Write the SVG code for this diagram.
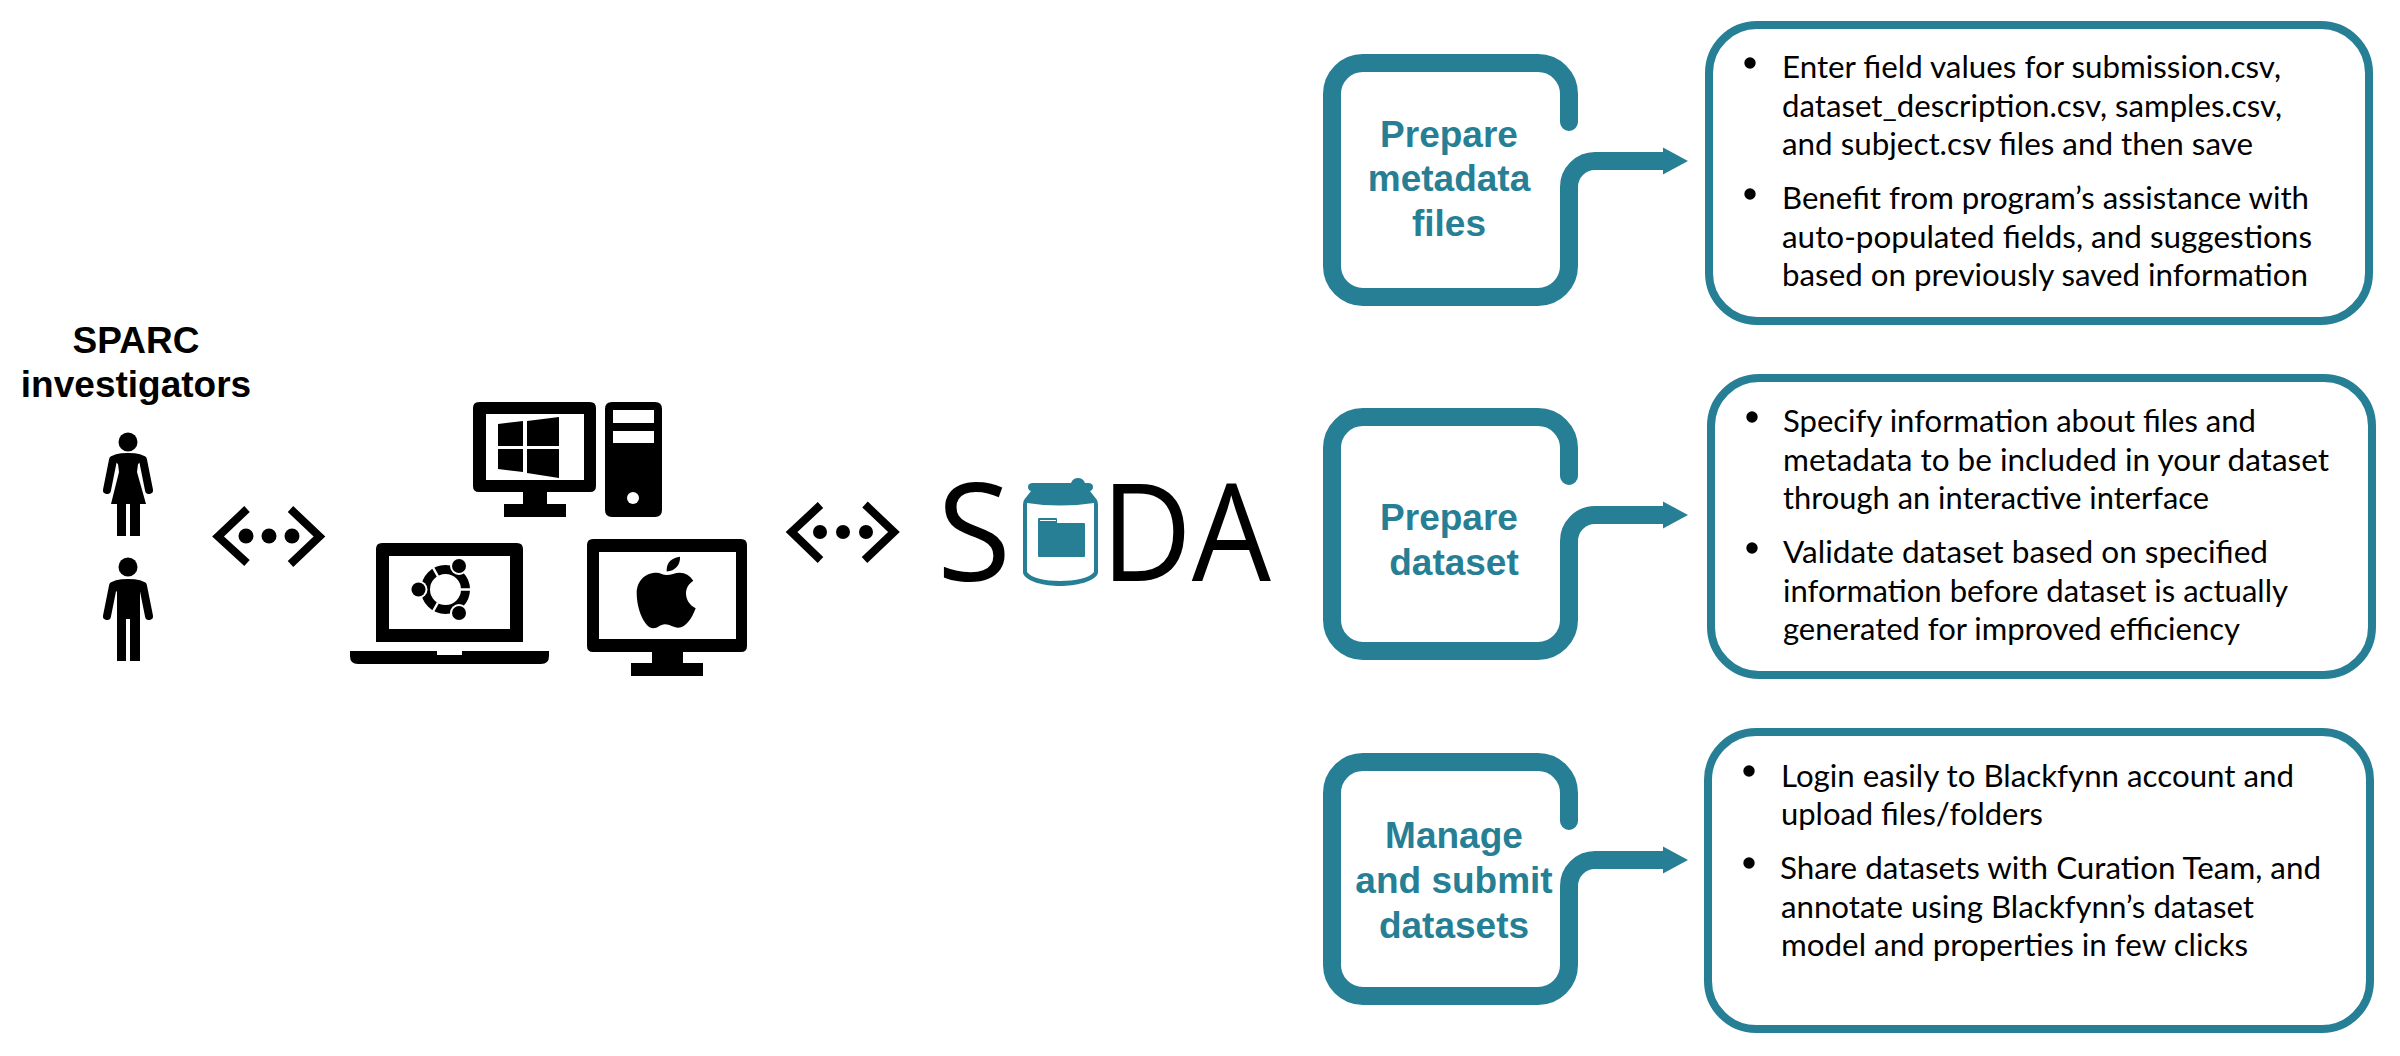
<svg xmlns="http://www.w3.org/2000/svg" width="2400" height="1056" viewBox="0 0 2400 1056">
<style>
.lab{font-family:"Liberation Sans",Arial,sans-serif;font-weight:700;font-size:37px;text-anchor:middle}
.teal{fill:#277f95}
.blk{fill:#000}
.body{font-family:Lato,"Noto Sans",sans-serif;font-size:30px;fill:#000}
.frame{fill:none;stroke:#277f95;stroke-width:18;stroke-linecap:round}
.conn{fill:none;stroke:#277f95;stroke-width:18}
.card{fill:#fff;stroke:#277f95;stroke-width:8}
.chev{fill:none;stroke:#000;stroke-width:8;stroke-miterlimit:10}
.limb{fill:none;stroke:#000;stroke-width:8;stroke-linecap:round}
.soda{font-family:"Open Sans",sans-serif;font-size:135px;fill:#000}
</style>
<defs>
<path id="frame" d="M1569 59V31A31 31 0 0 0 1538 0H1363A31 31 0 0 0 1332 31V203A31 31 0 0 0 1363 234H1538A31 31 0 0 0 1569 203V129"/>
<path id="conn" d="M1569 130V124A26 26 0 0 1 1595 98H1665"/>
<path id="head" d="M1663 84.500L1688 98L1663 111.500Z"/>
</defs>
<rect width="2400" height="1056" fill="#fff"/>

<g id="connectors">
<polyline class="chev" points="247,509 218,536.500 247,563"/>
<polyline class="chev" points="290.500,509 319.500,536.500 290.500,564"/>
<g class="blk"><circle cx="246" cy="536" r="7.500"/><circle cx="269" cy="536" r="7.500"/><circle cx="292" cy="536" r="7.500"/></g>
<polyline class="chev" points="820.500,505 791.500,532 820.500,560"/>
<polyline class="chev" points="865,504.500 894,532 864.500,560"/>
<g class="blk"><circle cx="820" cy="532" r="7"/><circle cx="843" cy="532" r="7"/><circle cx="866" cy="532" r="7"/></g>
<use href="#conn" class="conn" transform="translate(0 63)"/><use href="#head" class="teal" transform="translate(0 63)"/>
<use href="#conn" class="conn" transform="translate(0 417)"/><use href="#head" class="teal" transform="translate(0 417)"/>
<use href="#conn" class="conn" transform="translate(0 762)"/><use href="#head" class="teal" transform="translate(0 762)"/>
</g>

<g id="investigators">
<text class="lab" x="136" y="353">SPARC</text>
<text class="lab" x="136" y="397">investigators</text>
<g id="woman">
<ellipse class="blk" cx="128" cy="442" rx="9.500" ry="9.500"/>
<path class="limb" d="M113 460L107 490M143 460L149 490"/>
<path class="blk" d="M110 458Q113 453 128 453Q143 453 146 458L138 464L137 472L146 504H111L119 472L118 464Z"/>
<path class="blk" d="M117 504H126V536H117ZM130 504H140V536H130Z"/>
</g>
<g id="man">
<ellipse class="blk" cx="128" cy="567" rx="9.500" ry="9.500"/>
<path class="limb" d="M113 586L107 616M143 586L149 616"/>
<path class="blk" d="M110 584Q113 579 128 579Q143 579 146 584L140 592V661H130V619H126V661H117V592Z"/>
</g>
</g>

<g id="windows-pc">
<path class="blk" fill-rule="evenodd" d="M479 402H590Q596 402 596 408V486Q596 492 590 492H547V504H566V517H504V504H523V492H479Q473 492 473 486V408Q473 402 479 402ZM486 414V480H584V414Z"/>
<path class="blk" d="M498 424L523 421V446H498ZM527 421L559 417V446H527ZM498 449H523V472L498 469ZM527 449H559V478L527 473Z"/>
<path class="blk" fill-rule="evenodd" d="M612 402H655Q662 402 662 409V510Q662 517 655 517H612Q605 517 605 510V409Q605 402 612 402ZM613 410V423H654V410ZM613 431V443H654V431Z"/>
<circle cx="633" cy="498" r="6" fill="#fff"/>
</g>

<g id="ubuntu-laptop">
<path class="blk" fill-rule="evenodd" d="M382 543H517Q523 543 523 549V642H376V549Q376 543 382 543ZM389 556V629H510V556Z"/>
<path class="blk" d="M350 651H437V655H462V651H549V656Q549 664 541 664H358Q350 664 350 656Z"/>
<circle cx="445.500" cy="589.500" r="20" fill="none" stroke="#000" stroke-width="9"/>
<path d="M460 589.500H472M438 576.500L431 564M438 602.500L431 615" fill="none" stroke="#fff" stroke-width="2.500"/>
<g fill="#fff"><circle cx="418.500" cy="589.500" r="9"/><circle cx="459" cy="566" r="9"/><circle cx="459" cy="613" r="9"/></g>
<g class="blk"><circle cx="418.500" cy="589.500" r="7"/><circle cx="459" cy="566" r="7"/><circle cx="459" cy="613" r="7"/></g>
</g>

<g id="apple-monitor">
<path class="blk" fill-rule="evenodd" d="M593 539H741Q747 539 747 545V646Q747 652 741 652H683V663H703V676H631V663H652V652H593Q587 652 587 646V545Q587 539 593 539ZM599 552V639H736V552Z"/>
<path class="blk" d="M666.700 575C671 575 675 572.700 680 572.700C685 572.700 690 575.500 693.300 580.700C689 583.500 686 588 686 593.300C686 600 690 605.500 695.700 608.300C692 618 686 627.700 678.300 627.700C673 627.700 670 624.300 665 624.300C660 624.300 658 628.300 653.300 628.300C645 628.300 636.700 610 636.700 593.300C636.700 580 646 572.700 656.700 572.700C660 572.700 663 575 666.700 575Z"/>
<path class="blk" d="M666.700 571.500C666 562 672 558 680 556.700C680.500 565 675 571 666.700 571.500Z"/>
</g>

<g id="soda">
<text class="soda" x="937" y="581">S</text>
<text class="soda" x="1101" y="581" textLength="170" lengthAdjust="spacingAndGlyphs">DA</text>
<g id="can">
<path class="teal" fill-rule="evenodd" d="M1028 487Q1028 483 1033 483H1071Q1073 478 1078 478Q1083 478 1085 483H1088Q1093 483 1093 487Q1093 490 1090 491L1097 500Q1098 502 1098 505V573C1095 582 1075 586 1060 586C1045 586 1026 582 1023 573V505Q1023 502 1024 500L1031 491Q1028 490 1028 487ZM1027 503V572C1031 578 1045 581 1060 581C1075 581 1090 578 1094 572V503Q1060 508 1027 503Z"/>
<path class="teal" d="M1039 518H1056Q1057 518 1057 519V523H1084Q1085 523 1085 524V556Q1085 557 1084 557H1039Q1038 557 1038 556V519Q1038 518 1039 518Z"/>
<path d="M1040 520.500H1056" stroke="#fff" stroke-width="1"/>
</g>
</g>

<g id="prepare-metadata">
<use href="#frame" class="frame" transform="translate(0 63)"/>
<text class="lab teal" x="1449" y="147">Prepare</text>
<text class="lab teal" x="1449" y="191">metadata</text>
<text class="lab teal" x="1449" y="236">files</text>
</g>
<g id="prepare-dataset">
<use href="#frame" class="frame" transform="translate(0 417)"/>
<text class="lab teal" x="1449" y="530">Prepare</text>
<text class="lab teal" x="1454" y="575">dataset</text>
</g>
<g id="manage-submit">
<use href="#frame" class="frame" transform="translate(0 762)"/>
<text class="lab teal" x="1454" y="848">Manage</text>
<text class="lab teal" x="1454" y="893">and submit</text>
<text class="lab teal" x="1454" y="938">datasets</text>
</g>

<g id="card-metadata">
<rect class="card" x="1709" y="25" width="660" height="296" rx="48"/>
<circle class="blk" cx="1750" cy="63" r="5.700"/><circle class="blk" cx="1750" cy="194" r="5.700"/>
<text class="body" x="1782" y="78" textLength="499" lengthAdjust="spacingAndGlyphs">Enter field values for submission.csv,</text>
<text class="body" x="1782" y="117" textLength="500" lengthAdjust="spacingAndGlyphs">dataset_description.csv, samples.csv,</text>
<text class="body" x="1782" y="155" textLength="471" lengthAdjust="spacingAndGlyphs">and subject.csv files and then save</text>
<text class="body" x="1782" y="209" textLength="527" lengthAdjust="spacingAndGlyphs">Benefit from program’s assistance with</text>
<text class="body" x="1782" y="248" textLength="530" lengthAdjust="spacingAndGlyphs">auto-populated fields, and suggestions</text>
<text class="body" x="1782" y="286" textLength="526" lengthAdjust="spacingAndGlyphs">based on previously saved information</text>
</g>
<g id="card-dataset">
<rect class="card" x="1711" y="378" width="661" height="297" rx="48"/>
<circle class="blk" cx="1752" cy="417" r="5.700"/><circle class="blk" cx="1752" cy="548" r="5.700"/>
<text class="body" x="1783" y="432" textLength="473" lengthAdjust="spacingAndGlyphs">Specify information about files and</text>
<text class="body" x="1783" y="471" textLength="546" lengthAdjust="spacingAndGlyphs">metadata to be included in your dataset</text>
<text class="body" x="1783" y="509" textLength="426" lengthAdjust="spacingAndGlyphs">through an interactive interface</text>
<text class="body" x="1783" y="563" textLength="485" lengthAdjust="spacingAndGlyphs">Validate dataset based on specified</text>
<text class="body" x="1783" y="602" textLength="505" lengthAdjust="spacingAndGlyphs">information before dataset is actually</text>
<text class="body" x="1783" y="640" textLength="457" lengthAdjust="spacingAndGlyphs">generated for improved efficiency</text>
</g>
<g id="card-manage">
<rect class="card" x="1708" y="732" width="662" height="297" rx="48"/>
<circle class="blk" cx="1749" cy="771" r="5.700"/><circle class="blk" cx="1749" cy="863" r="5.700"/>
<text class="body" x="1781" y="787" textLength="513" lengthAdjust="spacingAndGlyphs">Login easily to Blackfynn account and</text>
<text class="body" x="1781" y="825" textLength="262" lengthAdjust="spacingAndGlyphs">upload files/folders</text>
<text class="body" x="1780" y="879" textLength="541" lengthAdjust="spacingAndGlyphs">Share datasets with Curation Team, and</text>
<text class="body" x="1781" y="918" textLength="473" lengthAdjust="spacingAndGlyphs">annotate using Blackfynn’s dataset</text>
<text class="body" x="1781" y="956" textLength="467" lengthAdjust="spacingAndGlyphs">model and properties in few clicks</text>
</g>
</svg>
